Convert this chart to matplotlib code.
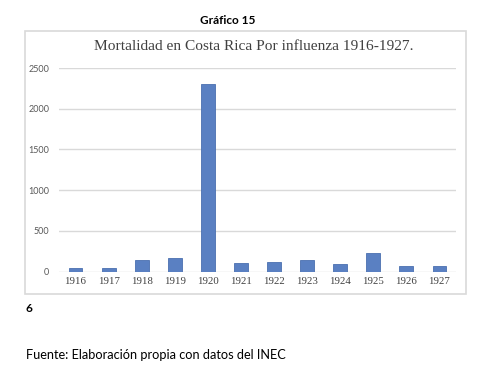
import matplotlib
matplotlib.use("Agg")
import matplotlib.pyplot as plt
from matplotlib.patches import Rectangle

years = ["1916", "1917", "1918", "1919", "1920", "1921", "1922", "1923", "1924", "1925", "1926", "1927"]
deaths = [45, 42, 140, 168, 2300, 107, 115, 144, 98, 229, 66, 66]
yticks = [0, 500, 1000, 1500, 2000, 2500]

W, H = 484, 386
fig = plt.figure(figsize=(W / 100, H / 100), dpi=100)
fig.patch.set_facecolor("white")

def fx(px):
    return px / W

def fy(py):
    return 1 - py / H

# chart box
box = Rectangle((fx(25), fy(294)), fx(466) - fx(25), fy(31) - fy(294),
                transform=fig.transFigure, facecolor="white", edgecolor="#d9d9d9",
                linewidth=1.2, zorder=-1)
fig.patches.append(box)

ax = fig.add_axes([fx(59), fy(271.7), fx(456) - fx(59), fy(68) - fy(271.7)])
ax.set_zorder(2)
ax.set_facecolor("none")
x = list(range(len(years)))
ax.bar(x, deaths, width=0.42, color="#5a80c2", edgecolor="#4a70b0", linewidth=0.6, zorder=3)
ax.set_xlim(-0.5, len(years) - 0.5)
ax.set_ylim(0, 2500)
ax.set_yticks(yticks)
ax.set_yticklabels([str(v) for v in yticks], fontsize=6.5, color="#595959", family="Lato")
ax.set_xticks(x)
ax.set_xticklabels(years, fontsize=7.8, color="#404040", family="Liberation Serif")
ax.tick_params(axis="both", length=0)
ax.tick_params(axis="y", pad=7)
ax.tick_params(axis="x", pad=4)
for s in ax.spines.values():
    s.set_visible(False)
ax.grid(axis="y", color="#d9d9d9", linewidth=1.0, zorder=0)
ax.set_axisbelow(True)

fig.text(fx(254), fy(46), "Mortalidad en Costa Rica Por influenza 1916-1927.",
         ha="center", va="center", fontsize=11.1, color="#404040", family="Liberation Serif")
fig.text(fx(228), fy(21), "Gráfico 15", ha="center", va="center", fontsize=8.5,
         fontweight="bold", color="black", family="Lato")
fig.text(fx(26), fy(308), "6", ha="left", va="center", fontsize=8.5,
         fontweight="bold", color="black", family="Lato")
fig.text(fx(26), fy(355), "Fuente: Elaboración propia con datos del INEC", ha="left",
         va="center", fontsize=9.2, color="black", family="Lato")

fig.savefig("out.png", dpi=100, facecolor="white")
